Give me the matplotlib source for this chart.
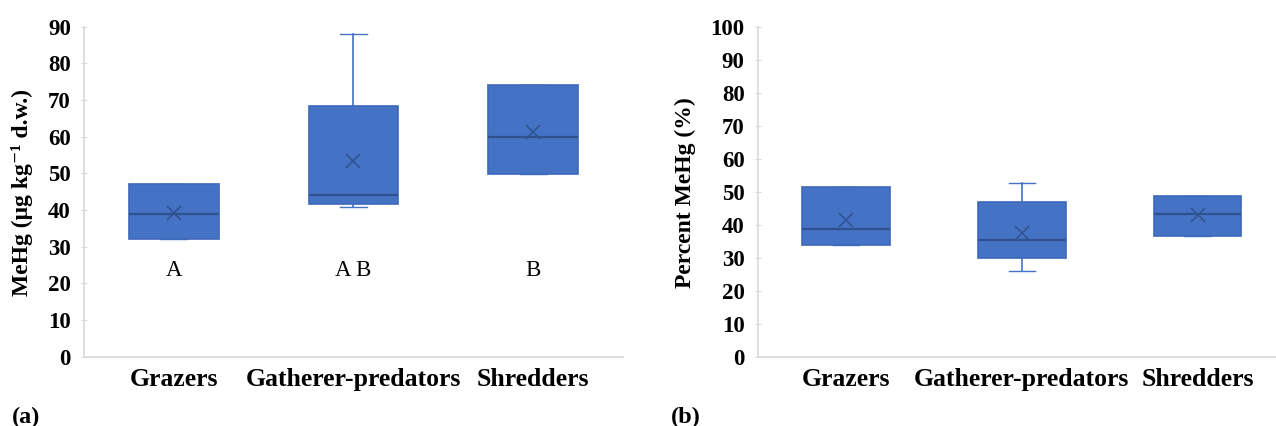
import matplotlib
matplotlib.use("Agg")
import matplotlib.pyplot as plt

plt.rcParams["font.family"] = ["Liberation Serif", "DejaVu Serif"]

groups = ["Grazers", "Gatherer-predators", "Shredders"]
letters = ["A", "A B", "B"]

# MeHg concentration, ug/kg dry weight
mehg_q1 = [32.0, 41.7, 49.9]
mehg_med = [38.9, 44.1, 59.9]
mehg_q3 = [47.1, 68.4, 74.1]
mehg_lo = [32.0, 40.9, 49.9]
mehg_hi = [47.1, 88.0, 74.1]
mehg_mean = [39.3, 53.4, 61.4]

# MeHg as percent of total Hg
pct_q1 = [33.8, 29.8, 36.5]
pct_med = [38.6, 35.5, 43.2]
pct_q3 = [51.5, 46.8, 48.8]
pct_lo = [33.8, 26.0, 36.5]
pct_hi = [51.5, 52.5, 48.8]
pct_mean = [41.4, 37.6, 42.8]

BLUE = "#4472C4"
DARK = "#2F528F"
GRID = "#D9D9D9"


def make_stats(q1, med, q3, lo, hi, mean):
    stats = []
    for i in range(len(q1)):
        stats.append(dict(q1=q1[i], med=med[i], q3=q3[i], whislo=lo[i],
                          whishi=hi[i], mean=mean[i], fliers=[]))
    return stats


def draw_panel(ax, stats, ymax):
    # whiskers/caps sit under the box so zero-length ones stay hidden
    ax.bxp(stats, positions=range(len(stats)), widths=0.5,
           patch_artist=True, showmeans=True, showfliers=False,
           boxprops=dict(facecolor=BLUE, edgecolor="#3E68B8", linewidth=1.2, zorder=3),
           medianprops=dict(color=DARK, linewidth=1.6, zorder=4),
           whiskerprops=dict(color=BLUE, linewidth=1.2, zorder=1),
           capprops=dict(color=BLUE, linewidth=1.0, zorder=1),
           capwidths=0.15,
           meanprops=dict(marker="x", markeredgecolor=DARK, markersize=10,
                          markeredgewidth=1.1, zorder=5))
    ax.set_xlim(-0.5, len(stats) - 0.5)
    ax.set_ylim(0, ymax)
    ax.set_yticks(range(0, ymax + 1, 10))
    ax.set_xticks(range(len(stats)))
    ax.set_xticklabels(groups, fontsize=18.5, fontweight="bold")
    for lab in ax.get_yticklabels():
        lab.set_fontsize(16.5)
        lab.set_fontweight("bold")
    ax.tick_params(axis="y", direction="inout", length=5, width=0.8,
                   color=GRID, pad=7)
    ax.tick_params(axis="x", length=0, pad=8)
    for side in ("top", "right"):
        ax.spines[side].set_visible(False)
    for side in ("left", "bottom"):
        ax.spines[side].set_color(GRID)
        ax.spines[side].set_linewidth(1.2)


fig = plt.figure(figsize=(12.76, 4.26), dpi=100)

ax1 = fig.add_axes([0.0658, 0.1627, 0.4224, 0.7746])
draw_panel(ax1, make_stats(mehg_q1, mehg_med, mehg_q3, mehg_lo, mehg_hi, mehg_mean), 90)
for i, s in enumerate(letters):
    ax1.text(i, 23.6, s, ha="center", va="center", fontsize=16.5)

ax2 = fig.add_axes([0.594, 0.1627, 0.4134, 0.7746])
draw_panel(ax2, make_stats(pct_q1, pct_med, pct_q3, pct_lo, pct_hi, pct_mean), 100)

fig.text(0.0172, 0.549, "MeHg (μg kg⁻¹ d.w.)", rotation=90, ha="center",
         va="center", fontsize=17, fontweight="bold")
fig.text(0.5368, 0.549, "Percent MeHg (%)", rotation=90, ha="center",
         va="center", fontsize=17, fontweight="bold")

fig.text(0.009, 0.046, "(a)", ha="left", va="top", fontsize=17.5, fontweight="bold")
fig.text(0.526, 0.046, "(b)", ha="left", va="top", fontsize=17.5, fontweight="bold")

fig.savefig("out.png", dpi=100)
